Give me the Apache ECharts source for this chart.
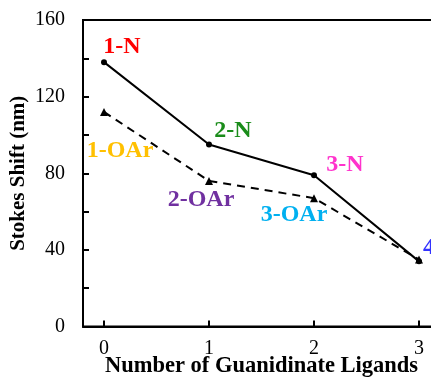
<!DOCTYPE html>
<html>
<head>
    <meta charset="utf-8">
    <script src="https://cdn.jsdelivr.net/npm/echarts@6/dist/echarts.min.js"></script>
    <title>Stokes shift vs number of guanidinate ligands</title>
    <style>
        html, body { margin: 0; padding: 0; background: #fff; }
        #main { width: 431px; height: 378px; }
    </style>
</head>
<body>
    <div id="main"></div>
    <script type="text/javascript">
        // data
        var ligands = [0, 1, 2, 3];
        var shiftN = [138, 95, 79, 34];
        var shiftOAr = [112, 76, 67, 35];
        var namesN = ['1-N', '2-N', '3-N', '4'];
        var namesOAr = ['1-OAr', '2-OAr', '3-OAr', ''];
        var colorsN = ['#ff0000', '#1a8c1a', '#ff33cc', '#3333ff'];
        var colorsOAr = ['#ffc000', '#7030a0', '#00b0f0', '#00b0f0'];

        // label offsets from the point (px)
        var offN = [[18, -15], [24, -14], [31, -10], [10, -14]];
        var offOAr = [[16, 39], [-8, 19], [-20, 17], [0, 0]];

        var serif = '"Liberation Serif", "Times New Roman", serif';

        function buildData(xs, ys, names, colors, offs) {
            return xs.map(function (x, i) {
                return {
                    value: [x, ys[i]],
                    label: {
                        show: names[i] !== '',
                        formatter: names[i],
                        color: colors[i],
                        offset: offs[i]
                    }
                };
            });
        }

        var myChart = echarts.init(document.getElementById('main'));

        myChart.setOption({
            animation: false,
            grid: {
                left: 83,
                top: 20,
                width: 357,
                height: 306.5,
                outerBoundsMode: 'none',
                containLabel: false,
                show: true,
                borderColor: '#000',
                borderWidth: 2
            },
            xAxis: {
                type: 'value',
                min: -0.2,
                max: 3.2,
                name: 'Number of Guanidinate Ligands',
                nameLocation: 'middle',
                nameMoveOverlap: false,
                nameGap: 40,
                nameTextStyle: { fontFamily: serif, fontWeight: 'bold', fontSize: 22.5, color: '#000', verticalAlign: 'middle' },
                splitLine: { show: false },
                axisLine: { onZero: false, lineStyle: { color: '#000', width: 2 } },
                axisTick: { inside: true, length: 6, customValues: ligands, lineStyle: { color: '#000', width: 2 } },
                axisLabel: { customValues: ligands, fontFamily: serif, fontSize: 20, color: '#000', margin: 12 }
            },
            yAxis: {
                type: 'value',
                min: 0,
                max: 160,
                interval: 20,
                name: 'Stokes Shift (nm)',
                nameLocation: 'middle',
                nameMoveOverlap: false,
                nameGap: 64,
                nameTextStyle: { fontFamily: serif, fontWeight: 'bold', fontSize: 21, color: '#000', verticalAlign: 'middle' },
                splitLine: { show: false },
                axisLine: { onZero: false, lineStyle: { color: '#000', width: 2 } },
                axisTick: { inside: true, length: 6, lineStyle: { color: '#000', width: 2 } },
                axisLabel: {
                    fontFamily: serif, fontSize: 20, color: '#000', margin: 18,
                    formatter: function (v) { return v % 40 === 0 ? String(v) : ''; }
                }
            },
            series: [{
                name: 'N',
                type: 'line',
                symbol: 'circle',
                symbolSize: 6,
                itemStyle: { color: '#000' },
                lineStyle: { color: '#000', width: 2 },
                label: {
                    position: 'inside',
                    fontFamily: serif,
                    fontWeight: 'bold',
                    fontSize: 24
                },
                data: buildData(ligands, shiftN, namesN, colorsN, offN)
            }, {
                name: 'OAr',
                type: 'line',
                symbol: 'triangle',
                symbolSize: 8,
                itemStyle: { color: '#000' },
                lineStyle: { color: '#000', width: 2, type: [8, 6] },
                label: {
                    position: 'inside',
                    fontFamily: serif,
                    fontWeight: 'bold',
                    fontSize: 24
                },
                data: buildData(ligands, shiftOAr, namesOAr, colorsOAr, offOAr)
            }]
        });
    </script>
</body>
</html>
